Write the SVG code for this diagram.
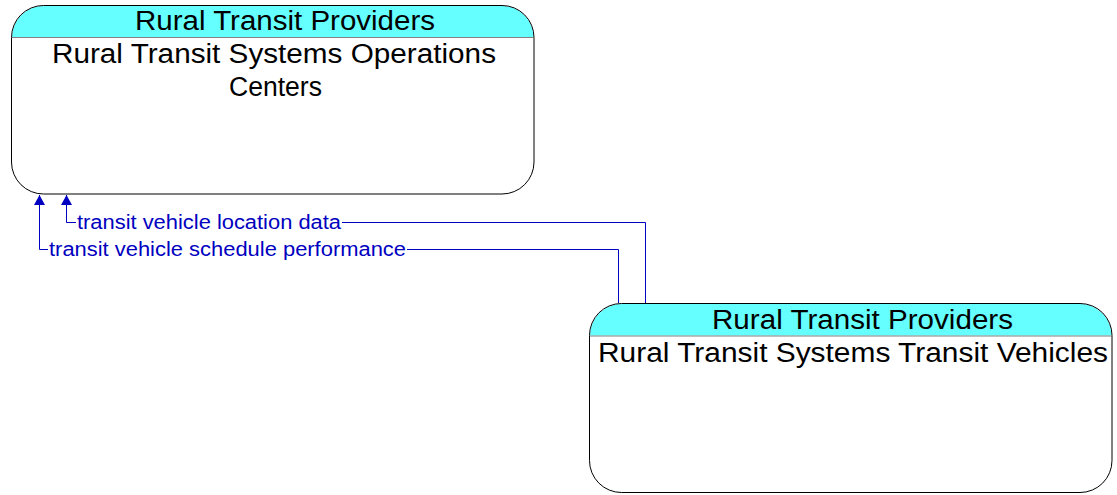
<svg xmlns="http://www.w3.org/2000/svg" width="1117" height="495" viewBox="0 0 1117 495">
  <defs>
    <marker id="arrow" viewBox="0 0 10 10" refX="10" refY="5" markerWidth="10" markerHeight="11" markerUnits="userSpaceOnUse" orient="auto" preserveAspectRatio="none">
      <path d="M0,0 L10,5 L0,10 Z" fill="#0000C0"/>
    </marker>
  </defs>
  <style>
    .box { fill: #ffffff; stroke: none; }
    .outline { fill: none; stroke: #000000; stroke-width: 1; }
    .head { fill: #66FFFF; stroke: none; }
    .sep { stroke: #808080; stroke-width: 1; }
    .title { font-family: "Liberation Sans", Arial, sans-serif; font-size: 27px; fill: #000000; }
    .flow { fill: none; stroke: #0000C0; stroke-width: 1; }
    .flowlabel { font-family: "Liberation Sans", Arial, sans-serif; font-size: 20px; fill: #0000C0; }
  </style>
  <rect x="0" y="0" width="1117" height="495" fill="#ffffff"/>

  <!-- operations centre node -->
  <g id="rural-transit-ops">
    <rect class="box" x="11.5" y="5.5" width="522.5" height="188.5" rx="32" ry="32"/>
    <path class="head" d="M12,37 A31.5,31.5 0 0 1 43.5,6 L502,6 A31.5,31.5 0 0 1 533.5,37 Z"/>
    <line class="sep" x1="12" y1="37.5" x2="533.5" y2="37.5"/>
    <rect class="outline" x="11.5" y="5.5" width="522.5" height="188.5" rx="32" ry="32"/>
    <text class="title" x="135" y="30" textLength="300" lengthAdjust="spacingAndGlyphs">Rural Transit Providers</text>
    <text class="title" x="52" y="63" textLength="444" lengthAdjust="spacingAndGlyphs">Rural Transit Systems Operations</text>
    <text class="title" x="229" y="96" textLength="93" lengthAdjust="spacingAndGlyphs">Centers</text>
  </g>

  <!-- vehicle node -->
  <g id="rural-transit-vehicles">
    <rect class="box" x="589.5" y="303.5" width="522.5" height="189" rx="32" ry="32"/>
    <path class="head" d="M590,335.5 A31.5,31.5 0 0 1 621.5,304 L1080,304 A31.5,31.5 0 0 1 1111.5,335.5 Z"/>
    <line class="sep" x1="590" y1="336" x2="1111.5" y2="336"/>
    <rect class="outline" x="589.5" y="303.5" width="522.5" height="189" rx="32" ry="32"/>
    <text class="title" x="712" y="329" textLength="301" lengthAdjust="spacingAndGlyphs">Rural Transit Providers</text>
    <text class="title" x="598" y="362" textLength="510" lengthAdjust="spacingAndGlyphs">Rural Transit Systems Transit Vehicles</text>
  </g>

  <!-- information flows -->
  <g id="connectors">
    <path class="flow" d="M645.5,303 L645.5,222.5 L66.5,222.5 L66.5,195" marker-end="url(#arrow)"/>
    <path class="flow" d="M618.5,303 L618.5,249.5 L39.5,249.5 L39.5,195" marker-end="url(#arrow)"/>
    <rect x="76" y="212" width="266" height="20" fill="#ffffff"/>
    <rect x="48" y="239" width="359" height="20" fill="#ffffff"/>
    <text class="flowlabel" x="77" y="229" textLength="264" lengthAdjust="spacingAndGlyphs">transit vehicle location data</text>
    <text class="flowlabel" x="49" y="256" textLength="357" lengthAdjust="spacingAndGlyphs">transit vehicle schedule performance</text>
  </g>
</svg>
